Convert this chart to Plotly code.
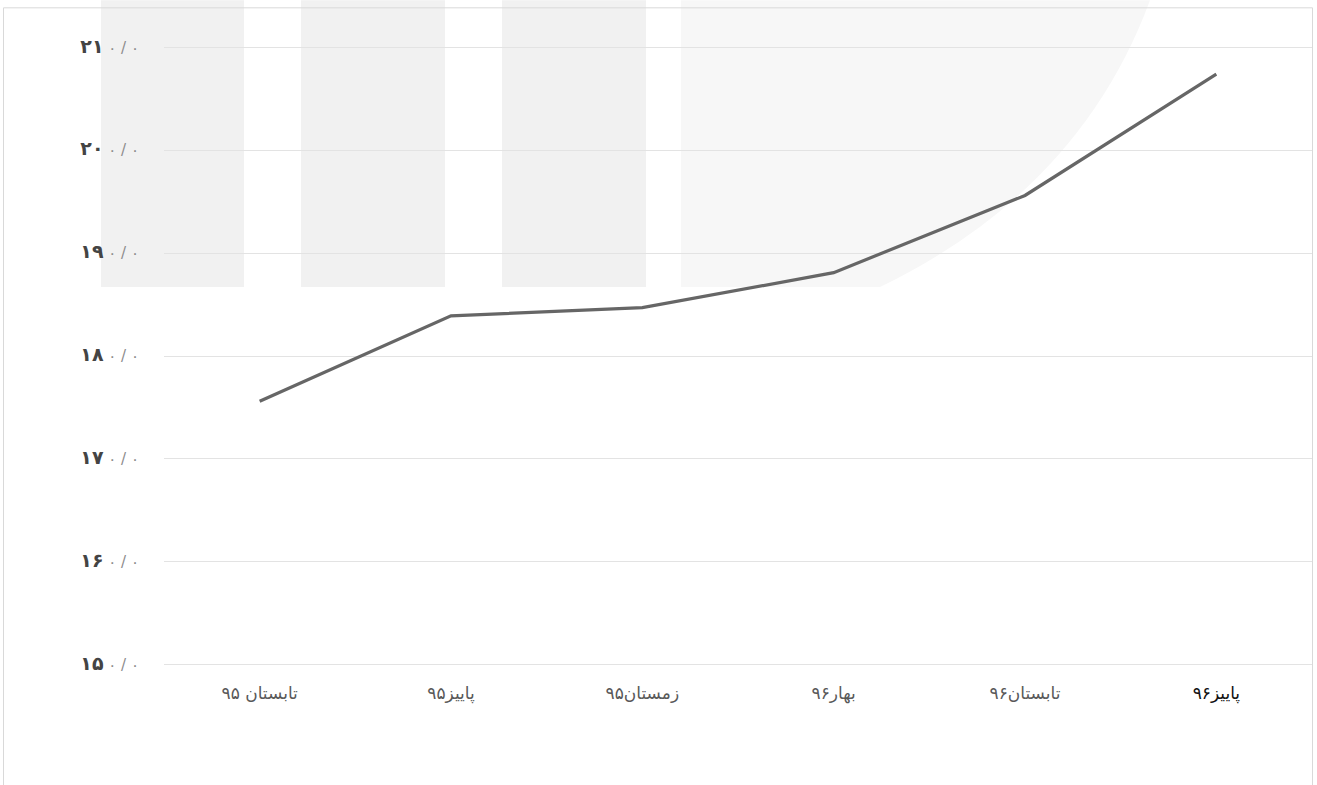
import plotly.graph_objects as go

categories = ["تابستان ۹۵", "پاییز۹۵", "زمستان۹۵", "بهار۹۶", "تابستان۹۶", "پاییز۹۶"]
values = [175.6, 183.9, 184.7, 188.1, 195.6, 207.4]
tick_vals = [150, 160, 170, 180, 190, 200, 210]
tick_head = ["۱۵", "۱۶", "۱۷", "۱۸", "۱۹", "۲۰", "۲۱"]
tick_tail = ["۰ / ۰"] * 7

W, H = 1317, 785
L, R = 164, 5
YMIN, YMAX = 149, 211
PX_PER_UNIT = 10.3
T = 47 - (YMAX - 210) * PX_PER_UNIT
B = (H - 665) - (150 - YMIN) * PX_PER_UNIT
PW, PH = W - L - R, H - T - B

def px(x):
    return (x - L) / PW

def py(y):
    return (H - B - y) / PH

fig = go.Figure()
fig.add_trace(go.Scatter(
    x=categories, y=values, mode="lines",
    line=dict(color="#666666", width=3.2),
    hoverinfo="skip", showlegend=False,
))

shapes = []
for x0, x1 in [(101, 244), (301, 445), (502, 646)]:
    shapes.append(dict(type="rect", xref="paper", yref="paper",
                       x0=px(x0), x1=px(x1), y0=py(287), y1=py(0),
                       fillcolor="#f1f1f1", line=dict(width=0), layer="below"))
shapes.append(dict(type="path", xref="paper", yref="paper",
                   path=f"M {px(681)},{py(0)} L {px(1150)},{py(0)} "
                        f"Q {px(1080)},{py(190)} {px(880)},{py(287)} L {px(681)},{py(287)} Z",
                   fillcolor="#f7f7f7", line=dict(width=0), layer="below"))
shapes.append(dict(type="rect", xref="paper", yref="paper",
                   x0=px(3.5), x1=px(1312.5), y0=py(800), y1=py(7.5),
                   line=dict(color="#d9d9d9", width=1), fillcolor="rgba(0,0,0,0)",
                   layer="above"))

x_text = [f"<span style='color:#595959'>{c}</span>" for c in categories[:-1]]
x_text.append(f"<span style='color:#111111'>{categories[-1]}</span>")
y_text = [f"<b><span style='color:#444444;font-size:19px'>{h}</span></b>"
          f"<span style='color:#8c8c8c'> {t}</span>"
          for h, t in zip(tick_head, tick_tail)]

fig.update_layout(
    width=W, height=H,
    margin=dict(l=L, r=R, t=T, b=B),
    paper_bgcolor="white", plot_bgcolor="rgba(0,0,0,0)",
    font=dict(family="DejaVu Sans", color="#595959"),
    shapes=shapes,
    xaxis=dict(
        type="category", range=[-0.5, 5.5], showgrid=False, showline=False,
        zeroline=False, ticks="", tickfont=dict(size=17, color="#595959"),
        tickvals=categories, ticktext=x_text,
        ticklabelstandoff=6,
    ),
    yaxis=dict(
        range=[YMIN, YMAX], tickvals=tick_vals, ticktext=y_text,
        showgrid=True, gridcolor="#e3e3e3", gridwidth=1, zeroline=False,
        showline=False, ticks="", tickfont=dict(size=15, color="#595959"),
        ticklabelstandoff=24,
    ),
)

fig.write_html("out.html", config={"displayModeBar": False},
               post_script="document.body.style.margin='0px';")
